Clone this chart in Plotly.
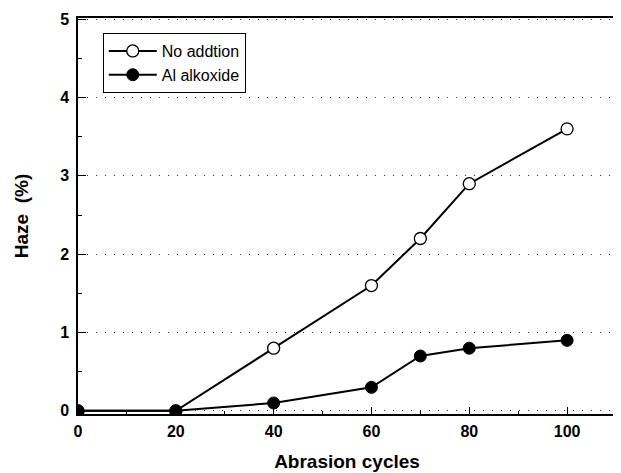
import plotly.graph_objects as go

cycles = [0, 20, 40, 60, 70, 80, 100]
no_addition = [0.0, 0.0, 0.8, 1.6, 2.2, 2.9, 3.6]
al_alkoxide = [0.0, 0.0, 0.1, 0.3, 0.7, 0.8, 0.9]
x_ticks = [0, 20, 40, 60, 80, 100]
y_ticks = [0, 1, 2, 3, 4, 5]

FONT = "Arial, Liberation Sans, sans-serif"

fig = go.Figure()
fig.add_trace(go.Scatter(
    x=cycles, y=no_addition, name="No addtion", mode="lines+markers",
    line=dict(color="black", width=2),
    marker=dict(symbol="circle", size=12, color="white", line=dict(color="black", width=1.3)),
))
fig.add_trace(go.Scatter(
    x=cycles, y=al_alkoxide, name="Al alkoxide", mode="lines+markers",
    line=dict(color="black", width=2),
    marker=dict(symbol="circle", size=12, color="black", line=dict(color="black", width=1)),
))

# page body has an 8px default margin, so the figure is sized/margined to compensate
fig.update_layout(
    width=613, height=465,
    margin=dict(l=70, r=3, t=10, b=59),
    paper_bgcolor="white", plot_bgcolor="white",
    font=dict(family=FONT, color="black"),
    showlegend=True,
    legend=dict(
        x=0.046, y=0.962, xanchor="left", yanchor="top",
        bgcolor="white", bordercolor="black", borderwidth=1,
        font=dict(family=FONT, size=16, color="black"),
        tracegroupgap=0, itemwidth=48,
    ),
)

fig.update_xaxes(
    range=[0, 110], tickvals=x_ticks, ticktext=[str(v) for v in x_ticks],
    showline=True, linecolor="black", linewidth=1.5, mirror=True,
    ticks="inside", ticklen=7, tickwidth=1, tickcolor="black",
    minor=dict(dtick=10, tick0=0, ticks="inside", ticklen=3, tickcolor="black"),
    showgrid=False, zeroline=False, ticklabelstandoff=2,
    tickfont=dict(family=FONT, size=16, color="black", weight="bold"),
    title=dict(text="<b>Abrasion cycles</b>", font=dict(family=FONT, size=19, color="black"), standoff=16),
)
fig.update_yaxes(
    range=[-0.04, 5.015], tickvals=y_ticks, ticktext=[str(v) for v in y_ticks],
    showline=True, linecolor="black", linewidth=1.5, mirror=True,
    ticks="inside", ticklen=8, tickwidth=1, tickcolor="black",
    minor=dict(dtick=0.5, tick0=0, ticks="inside", ticklen=4, tickcolor="black"),
    showgrid=True, gridcolor="#333333", gridwidth=1, griddash="1px,8px",
    zeroline=False, ticklabelstandoff=4,
    tickfont=dict(family=FONT, size=16, color="black", weight="bold"),
    title=dict(text="<b>Haze  (%)</b>", font=dict(family=FONT, size=19, color="black"), standoff=26),
)

fig.write_html("out.html")
